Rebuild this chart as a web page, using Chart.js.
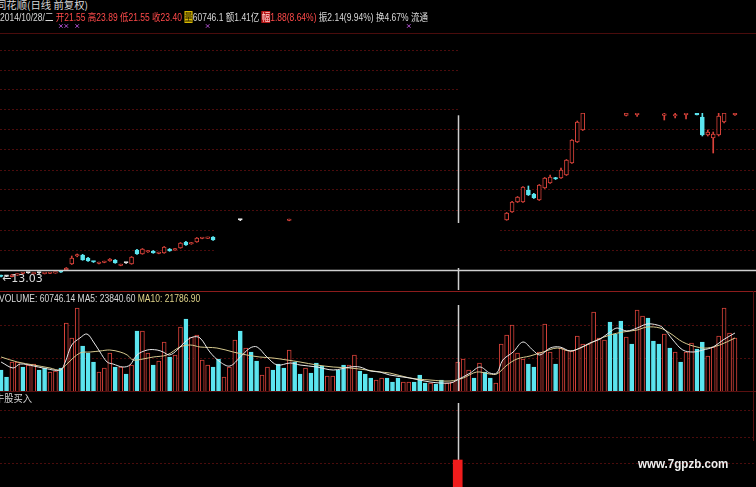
<!DOCTYPE html>
<html>
<head>
<meta charset="utf-8">
<script src="https://cdn.jsdelivr.net/npm/chart.js@4.4.1/dist/chart.umd.min.js"></script>
<style>
html, body { margin: 0; padding: 0; background: #000; width: 756px; height: 487px; overflow: hidden; }
#wrap { position: relative; width: 756px; height: 487px; background: #000; font-family: "Liberation Sans", "Noto Sans CJK SC", sans-serif; }
canvas { position: absolute; left: 0; }
.txt { position: absolute; white-space: nowrap; transform-origin: 0 0; line-height: 1; }
.rule { position: absolute; }
.up { color: #ff4a4a; }
.wt { color: #d8d8d8; }
</style>
</head>
<body>
<div id="wrap">
  <canvas id="priceChart" width="756" height="270" style="top:20px"></canvas>
  <canvas id="volChart" width="756" height="100" style="top:291px"></canvas>
  <canvas id="sigChart" width="756" height="95" style="top:392px"></canvas>

  <!-- areas the screenshot leaves black -->
  <div class="rule" style="left:460px;top:34px;width:296px;height:79px;background:#000"></div>
  <div class="rule" style="left:216px;top:223px;width:284px;height:45px;background:#000"></div>

  <!-- panel frames -->
  <div class="rule" style="left:0;top:33px;width:756px;height:1px;background:#4a0c0c"></div>
  <div class="rule" style="left:0;top:291px;width:756px;height:1px;background:#8c1c1c"></div>
  <div class="rule" style="left:0;top:391px;width:756px;height:1px;background:#5a1010"></div>
  <div class="rule" style="left:753px;top:291px;width:1px;height:150px;background:#5a1010"></div>

  <div id="head1" class="txt wt" style="left:-4px;top:0px;font-size:10px;font-family:'Noto Sans CJK SC';">同花顺(日线 前复权)</div>
  <div id="head2" class="txt" style="left:0;top:12px;font-size:10.5px;">
    <span class="wt">2014/10/28/二</span>
    <span class="up">开21.55</span>
    <span class="up">高23.89</span>
    <span class="up">低21.55</span>
    <span class="up">收23.40</span>
    <span style="color:#1a1400;background:#d8b800">量</span><span class="wt">60746.1</span>
    <span class="wt">额1.41亿</span>
    <span style="color:#ffd0d0;background:#b81818">幅</span><span class="up">1.88(8.64%)</span>
    <span class="wt">振2.14(9.94%)</span>
    <span class="wt">换4.67%</span>
    <span class="wt">流通</span>
  </div>
  <div id="volTitle" class="txt" style="left:-1px;top:294px;font-size:10px;">
    <span class="wt">VOLUME: 60746.14</span>
    <span class="wt">MA5: 23840.60</span>
    <span style="color:#e0d48a">MA10: 21786.90</span>
  </div>
  <div id="sigTitle" class="txt wt" style="left:-5px;top:393px;font-size:10px;font-family:'Noto Sans CJK SC';">牛股买入</div>
  <div id="mark" class="txt" style="left:638px;top:457px;font-size:13px;font-weight:bold;color:#f0f0f0;">www.7gpzb.com</div>
</div>

<script>
// day index 0..135, left to right
const X_MIN = -0.2;
const X_MAX = 138.87;

// candles that can be seen in the picture
const candleDay = [0, 1, 2, 3, 4, 5, 6, 7, 8, 9, 10, 11, 12, 13, 14, 15, 16, 17, 18, 19,
    20, 21, 22, 23, 24, 25, 26, 27, 28, 29, 30, 31, 32, 33, 34, 35, 36, 37, 38, 39,
    44, 53,
    93, 94, 95, 96, 97, 98, 99, 100, 101, 102, 103, 104, 105, 106, 107,
    115, 117, 122, 124, 126, 128, 129, 130, 131, 132, 133, 135];
const openP = [13.15, 13.10, 13.06, 13.22, 13.38, 13.43, 13.33, 13.43, 13.36, 13.38, 13.42, 13.58, 13.73, 14.33, 15.13, 15.23, 14.93, 14.55, 14.38, 14.48,
    14.63, 14.73, 14.18, 14.43, 14.33, 15.73, 15.33, 15.53, 15.63, 15.38, 15.43, 15.83, 15.73, 15.93, 16.53, 16.33, 16.53, 16.88, 16.90, 17.03,
    18.73, 18.68,
    18.73, 19.53, 20.53, 20.53, 21.73, 21.33, 20.73, 21.93, 22.43, 22.93, 22.93, 23.23, 24.43, 26.53, 27.73,
    29.20, 29.25, 29.20, 29.13, 29.25, 29.43, 29.03, 27.23, 26.93, 27.23, 28.53, 29.23];
const highP = [13.22, 13.14, 13.30, 13.34, 13.48, 13.46, 13.40, 13.46, 13.42, 13.46, 13.50, 13.62, 13.98, 15.13, 15.33, 15.30, 15.00, 14.60, 14.52, 14.62,
    14.88, 14.78, 14.32, 14.48, 15.08, 15.80, 15.88, 15.68, 15.68, 15.52, 16.08, 15.88, 15.88, 16.48, 16.60, 16.48, 16.98, 16.98, 17.02, 17.08,
    18.80, 18.82,
    19.48, 20.60, 21.08, 22.08, 22.13, 21.40, 22.28, 22.98, 23.23, 23.00, 23.93, 24.78, 26.78, 28.63, 29.43,
    29.43, 29.43, 29.43, 29.43, 29.43, 29.43, 29.43, 27.73, 27.53, 29.43, 29.43, 29.43];
const lowP = [13.03, 13.06, 13.04, 13.18, 13.35, 13.40, 13.30, 13.40, 13.33, 13.36, 13.40, 13.48, 13.70, 14.28, 15.05, 14.70, 14.60, 14.48, 14.35, 14.45,
    14.60, 14.40, 14.15, 14.38, 14.30, 15.30, 15.30, 15.50, 15.40, 15.35, 15.40, 15.60, 15.70, 15.90, 16.20, 16.30, 16.50, 16.85, 16.87, 16.70,
    18.66, 18.65,
    18.70, 19.48, 20.48, 20.48, 21.18, 20.88, 20.68, 21.88, 22.38, 22.78, 22.88, 23.18, 24.38, 26.48, 27.68,
    29.13, 29.10, 28.73, 28.93, 28.83, 29.23, 27.13, 27.13, 25.43, 27.13, 28.43, 29.20];
const closeP = [13.08, 13.10, 13.25, 13.30, 13.45, 13.43, 13.38, 13.43, 13.40, 13.44, 13.48, 13.52, 13.93, 14.93, 15.23, 14.73, 14.63, 14.53, 14.48, 14.58,
    14.83, 14.43, 14.28, 14.43, 15.03, 15.33, 15.83, 15.63, 15.43, 15.48, 16.03, 15.63, 15.83, 16.43, 16.23, 16.43, 16.93, 16.95, 16.98, 16.73,
    18.73, 18.78,
    19.43, 20.53, 21.03, 22.03, 21.23, 20.93, 22.23, 22.93, 23.03, 22.83, 23.73, 24.73, 26.73, 28.53, 29.43,
    29.43, 29.43, 29.33, 29.23, 29.43, 29.25, 27.23, 27.53, 27.33, 29.13, 29.43, 29.43];

// purple signal marks above the price panel
const signalDays = [11, 12, 14, 38, 75];
const signalLevel = 38.13;

// price grid levels
const priceGrid = [15.73, 17.73, 19.73, 21.73, 23.73, 25.73, 27.73, 29.73, 31.73, 33.73, 35.73];

// volume per day and up (r) / down (c)
const volume = [21, 14, 29, 29, 24, 26, 27, 21, 23, 19,
    20, 23, 68, 53, 83, 45, 38, 29, 19, 23,
    38, 24, 24, 17, 26, 60, 60, 38, 26, 30,
    49, 34, 36, 64, 72, 54, 56, 31, 26, 24,
    32, 14, 24, 51, 60, 43, 39, 30, 16, 24,
    21, 27, 23, 41, 29, 17, 23, 18, 28, 25,
    15, 15, 21, 26, 26, 36, 20, 17, 13, 11,
    13, 13, 9, 13, 9, 9, 9, 16, 8, 8,
    7, 11, 8, 9, 29, 32, 21, 13, 28, 19,
    13, 8, 47, 56, 66, 38, 32, 27, 24, 39,
    67, 39, 27, 43, 41, 40, 55, 47, 47, 79,
    53, 51, 69, 57, 70, 54, 47, 81, 75, 73,
    50, 47, 57, 43, 39, 29, 39, 48, 42, 49,
    35, 44, 55, 83, 58, 53];
const volSide = ('ccrrcrrccr' + 'rcrrrcccrr' + 'rcrcrcrrcr' + 'rcrrcrrrrc' + 'crrrcrccrr' +
    'cccrccrccc' + 'rrccrrcccr' + 'rcccrrcccr' + 'ccrrrrrcrc' + 'crrrrrrccr' +
    'rrcrrrrrrr' + 'rrcccrcrrc' + 'ccrcrcrrcc' + 'rrrrrr').split('');

// moving averages: [day, value]
const ma5 = [[0, 29], [2.2, 23], [3.5, 27], [6, 25], [7.7, 23], [10.9, 21], [11.8, 29], [13, 46], [14.5, 53], [15.8, 57],
    [17, 49], [18.2, 39], [19.5, 29], [20.6, 27], [22.4, 24], [23.7, 26], [25, 36], [26.9, 41], [28.7, 41], [29.8, 39],
    [31, 36], [32.4, 41], [33.8, 49], [35.3, 54], [36.6, 53], [38.4, 39], [40.3, 29], [42.1, 25], [44, 34], [45.8, 43],
    [47.1, 44], [48.9, 34], [50.8, 26], [53.2, 28], [55, 26], [58.1, 24], [61.1, 21], [64.2, 24], [66, 24], [67.9, 20],
    [69.7, 19], [71.5, 16], [75.2, 13], [78.9, 9], [82.6, 8], [83.9, 11], [86.3, 18], [88.1, 24], [89.9, 18], [91.2, 18],
    [92.3, 31], [94.2, 39], [96, 49], [97.8, 41], [99.1, 36], [101, 43], [102.8, 44], [104.7, 40], [106.5, 43], [108.3, 48],
    [110.2, 52], [112, 59], [113.3, 63], [115.1, 60], [117, 63], [118.8, 67], [120.7, 66], [121.8, 63], [123.6, 51], [125.4, 41],
    [127.3, 39], [129.1, 41], [131, 44], [132.8, 51], [135, 58]];
const ma10 = [[0, 34], [3, 29], [6, 26], [9, 23], [10.9, 21], [12.1, 27], [14.5, 38], [16.4, 39], [18.2, 40], [20, 41],
    [21.9, 39], [23.2, 36], [24.3, 31], [26.1, 32], [28, 34], [30.5, 36], [32.9, 44], [34.8, 46], [36.6, 44], [39.7, 43],
    [42.7, 39], [45.2, 36], [47.6, 34], [50, 33], [52.6, 31], [55, 29], [58.1, 26], [61.1, 24], [64.2, 23], [67.3, 21],
    [69.7, 19], [71.5, 18], [75.2, 13], [78.9, 11], [82.6, 10], [85, 13], [87.5, 19], [89.9, 17], [91.2, 17], [93.1, 26],
    [94.9, 32], [97.3, 35], [99.7, 39], [102.3, 43], [104.7, 40], [107, 44], [109.6, 51], [112, 56], [114.4, 59], [117, 61],
    [118.8, 64], [121.2, 63], [123, 58], [125.4, 49], [128, 44], [129.9, 43], [132.2, 46], [135, 53]];
const volGrid = [33, 66];

// bottom indicator
const signalBarDay = [84];
const signalBarValue = [27];
const sigGrid = [24, 50, 77];

// cursor
const cursorDay = 84;
const crossPrice = 13.73;
const cursorTopPrice = 29.2;

const UP = '#d8423a';
const DOWN = '#5ce6f0';
const FLAT = '#e8e8e8';
const GRID = 'rgba(125,20,20,0.6)';
const CURSOR = '#cfcfcf';

function candleColor(k) {
    if (closeP[k] > openP[k]) return UP;
    if (closeP[k] < openP[k]) return DOWN;
    return FLAT;
}

function baseOptions(yMin, yMax, gridVals) {
    return {
        responsive: false,
        animation: false,
        devicePixelRatio: 1,
        events: [],
        layout: { padding: 0, autoPadding: false },
        plugins: { legend: { display: false }, tooltip: { enabled: false } },
        scales: {
            x: { type: 'linear', min: X_MIN, max: X_MAX, display: false, offset: false },
            y: {
                min: yMin, max: yMax,
                ticks: { display: false },
                grid: { color: GRID, drawTicks: false, lineWidth: 1 },
                border: { display: false, dash: [2, 2] },
                afterBuildTicks: s => { s.ticks = gridVals.map(v => ({ value: v })); }
            }
        }
    };
}

function cursorLine(chart, yFrom, yTo) {
    const ctx = chart.ctx;
    const x = Math.round(chart.scales.x.getPixelForValue(cursorDay)) + 0.5;
    ctx.save();
    ctx.strokeStyle = CURSOR;
    ctx.lineWidth = 1.5;
    ctx.beginPath();
    ctx.moveTo(x, yFrom);
    ctx.lineTo(x, yTo);
    ctx.stroke();
    ctx.restore();
}

// price panel
new Chart(document.getElementById('priceChart'), {
    type: 'bar',
    data: {
        datasets: [
            {
                label: 'body',
                order: 0,
                grouped: false,
                data: candleDay.map((d, k) => ({ x: d, y: [openP[k], closeP[k]] })),
                backgroundColor: candleDay.map((d, k) => candleColor(k) === UP ? '#000' : candleColor(k)),
                borderColor: candleDay.map((d, k) => candleColor(k)),
                borderWidth: 1,
                borderSkipped: false,
                barThickness: 4,
                minBarLength: 1.5
            },
            {
                label: 'wick',
                order: 1,
                grouped: false,
                data: candleDay.map((d, k) => ({ x: d, y: [lowP[k], highP[k]] })),
                backgroundColor: candleDay.map((d, k) => candleColor(k)),
                borderWidth: 0,
                barThickness: 1
            },
            {
                type: 'line',
                label: 'signal',
                order: 0,
                data: signalDays.map(d => ({ x: d, y: signalLevel })),
                showLine: false,
                pointStyle: 'crossRot',
                pointRadius: 2.5,
                borderColor: '#b050d0',
                borderWidth: 1
            }
        ]
    },
    options: baseOptions(11.73, 38.73, priceGrid),
    plugins: [{
        id: 'priceCursor',
        afterDatasetsDraw(chart) {
            const { ctx, chartArea, scales } = chart;
            const y = Math.round(scales.y.getPixelForValue(crossPrice)) + 0.5;
            ctx.save();
            ctx.strokeStyle = CURSOR;
            ctx.lineWidth = 1.5;
            ctx.beginPath();
            ctx.moveTo(chartArea.left, y);
            ctx.lineTo(chartArea.right, y);
            ctx.stroke();
            ctx.restore();
            cursorLine(chart, scales.y.getPixelForValue(cursorTopPrice), chartArea.bottom);

            // lowest price marker
            let k = 0;
            lowP.forEach((v, i) => { if (v < lowP[k]) k = i; });
            ctx.save();
            ctx.fillStyle = '#dcdcdc';
            ctx.font = '11px "DejaVu Sans"';
            ctx.textBaseline = 'middle';
            ctx.fillText('←' + lowP[k].toFixed(2), scales.x.getPixelForValue(candleDay[k]) + 1, scales.y.getPixelForValue(lowP[k]) + 2);
            ctx.restore();
        }
    }]
});

// volume panel
new Chart(document.getElementById('volChart'), {
    type: 'bar',
    data: {
        datasets: [
            {
                type: 'line',
                label: 'MA5',
                order: 0,
                data: ma5.map(p => ({ x: p[0], y: p[1] })),
                borderColor: '#e8e8e8',
                borderWidth: 1,
                pointRadius: 0,
                tension: 0.35
            },
            {
                type: 'line',
                label: 'MA10',
                order: 0,
                data: ma10.map(p => ({ x: p[0], y: p[1] })),
                borderColor: '#d6c98e',
                borderWidth: 1,
                pointRadius: 0,
                tension: 0.35
            },
            {
                label: 'VOLUME',
                order: 1,
                data: volume.map((v, i) => ({ x: i, y: v })),
                backgroundColor: volSide.map(s => s === 'r' ? '#000' : DOWN),
                borderColor: volSide.map(s => s === 'r' ? UP : DOWN),
                borderWidth: 1,
                barThickness: 4
            }
        ]
    },
    options: baseOptions(0, 100, volGrid),
    plugins: [{
        id: 'volCursor',
        afterDatasetsDraw(chart) {
            cursorLine(chart, chart.chartArea.top + 14, chart.chartArea.bottom);
        }
    }]
});

// bottom indicator panel
new Chart(document.getElementById('sigChart'), {
    type: 'bar',
    data: {
        datasets: [{
            label: '牛股买入',
            data: signalBarDay.map((d, k) => ({ x: d, y: signalBarValue[k] })),
            backgroundColor: '#f01c1c',
            borderWidth: 0,
            barThickness: 9
        }]
    },
    options: baseOptions(0, 95, sigGrid),
    plugins: [{
        id: 'sigCursor',
        beforeDatasetsDraw(chart) {
            cursorLine(chart, chart.chartArea.top + 11, chart.chartArea.bottom);
        }
    }]
});

function fitWidth(id, w) {
    const el = document.getElementById(id);
    el.style.transform = 'scaleX(' + (w / el.scrollWidth) + ')';
}
fitWidth('head1', 92);
fitWidth('head2', 428);
fitWidth('volTitle', 201);
fitWidth('sigTitle', 37);
fitWidth('mark', 90);
</script>
</body>
</html>
